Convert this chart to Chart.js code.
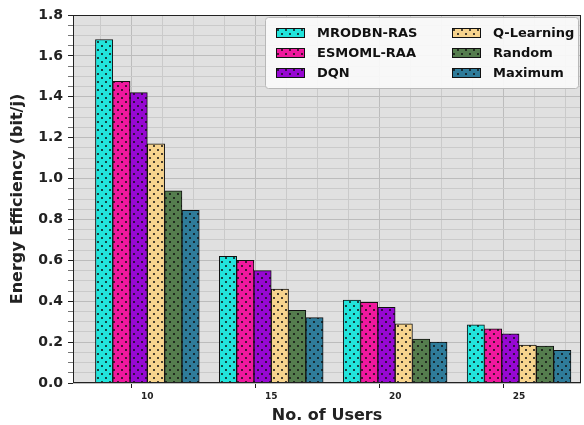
<!DOCTYPE html>
<html>
<head>
<meta charset="utf-8">
<script src="https://cdn.jsdelivr.net/npm/chart.js@4.4.1/dist/chart.umd.min.js"></script>
<style>
  html, body { margin: 0; padding: 0; background: #fff; }
  #wrap { width: 584px; height: 425px; }
</style>
</head>
<body>
<div id="wrap"><canvas id="c" width="584" height="425"></canvas></div>
<script>
// Energy efficiency per number of users for each allocation scheme
const users = [10, 15, 20, 25];
const yTickLabels = ['0.0', '0.2', '0.4', '0.6', '0.8', '1.0', '1.2', '1.4', '1.6', '1.8'];
const seriesNames = ['MRODBN-RAS', 'ESMOML-RAA', 'DQN', 'Q-Learning', 'Random', 'Maximum'];
const mrodbnRas = [1.68, 0.62, 0.405, 0.285];
const esmomlRaa = [1.475, 0.60, 0.395, 0.265];
const dqn       = [1.42, 0.55, 0.37, 0.24];
const qLearning = [1.17, 0.46, 0.29, 0.185];
const randomRa  = [0.94, 0.355, 0.215, 0.18];
const maximum   = [0.845, 0.32, 0.20, 0.16];

const seriesValues = [mrodbnRas, esmomlRaa, dqn, qLearning, randomRa, maximum];
const seriesColors = ['#22e4dc', '#f0189e', '#9708d2', '#f7d48e', '#557d4e', '#2f7c9a'];

const FONT = "'DejaVu Sans', sans-serif";

// dotted hatch fill, like a '.' hatch
function dotted(color) {
  const t = document.createElement('canvas');
  t.width = 8; t.height = 8;
  const g = t.getContext('2d');
  g.fillStyle = color;
  g.fillRect(0, 0, 8, 8);
  g.fillStyle = '#111';
  [[2, 2], [6, 6]].forEach(([x, y]) => {
    g.beginPath(); g.arc(x, y, 1, 0, Math.PI * 2); g.fill();
  });
  return g.createPattern(t, 'repeat');
}

const fills = seriesColors.map(dotted);

const datasets = seriesNames.map((name, k) => ({
  label: name,
  data: users.map((u, i) => ({ x: u, y: seriesValues[k][i] })),
  backgroundColor: fills[k],
  borderColor: '#111',
  borderWidth: 1,
  barThickness: 17.3
}));

const panel = {
  id: 'panel',
  beforeDraw(chart) {
    const { ctx, chartArea: a } = chart;
    ctx.save();
    ctx.fillStyle = '#e0e0e0';
    ctx.fillRect(a.left, a.top, a.right - a.left, a.bottom - a.top);
    ctx.restore();
  },
  afterDraw(chart) {
    const { ctx, chartArea: a } = chart;
    ctx.save();
    ctx.strokeStyle = '#222';
    ctx.lineWidth = 1;
    ctx.strokeRect(a.left + 0.5, a.top + 0.5, a.right - a.left - 1, a.bottom - a.top - 1);

    // legend box, two columns of three
    const bx = 265, by = 17, bw = 313, bh = 71;
    ctx.fillStyle = 'rgba(250,250,250,0.92)';
    ctx.strokeStyle = '#b8b8b8';
    ctx.beginPath();
    ctx.roundRect(bx + 0.5, by + 0.5, bw, bh, 3);
    ctx.fill(); ctx.stroke();
    ctx.font = `bold 13px ${FONT}`;
    ctx.textBaseline = 'middle';
    const cols = [276, 452];
    const rows = [33, 53, 73];
    chart.data.datasets.forEach((ds, k) => {
      const cx = cols[Math.floor(k / 3)];
      const cy = rows[k % 3];
      ctx.fillStyle = ds.backgroundColor;
      ctx.fillRect(cx, cy - 5, 29, 10);
      ctx.strokeStyle = '#111';
      ctx.strokeRect(cx + 0.5, cy - 4.5, 28, 9);
      ctx.fillStyle = '#111';
      ctx.fillText(ds.label, cx + 41, cy + 1);
    });
    ctx.restore();
  }
};

new Chart(document.getElementById('c'), {
  type: 'bar',
  data: { datasets },
  plugins: [panel],
  options: {
    responsive: false,
    animation: false,
    devicePixelRatio: 1,
    layout: { padding: { top: 15, right: 3, left: 0, bottom: 0 } },
    plugins: { legend: { display: false }, tooltip: { enabled: false } },
    scales: {
      x: {
        type: 'linear',
        min: 7,
        max: 27.5,
        offset: false,
        afterBuildTicks(axis) {
          const t = [];
          for (let v = 7.5; v <= 27.5; v += 1.25) t.push({ value: v });
          axis.ticks = t;
        },
        ticks: {
          autoSkip: false,
          maxRotation: 0,
          padding: 3,
          color: '#222',
          font: { family: FONT, weight: 'bold', size: 9 },
          callback(v) { return users.includes(v) ? String(v) : ''; }
        },
        grid: {
          color: (c) => (c.tick && users.includes(c.tick.value)) ? '#bcbcbc' : '#cacaca',
          tickColor: (c) => (c.tick && users.includes(c.tick.value)) ? '#222' : 'rgba(0,0,0,0)',
          tickLength: 5
        },
        border: { display: false },
        title: {
          display: true,
          text: 'No. of Users',
          color: '#222',
          font: { family: FONT, weight: 'bold', size: 16 },
          padding: { top: 2, bottom: 0 }
        },
        afterFit(s) { s.height = 42; }
      },
      y: {
        min: 0,
        max: 1.8,
        afterBuildTicks(axis) {
          const t = [];
          for (let i = 0; i <= 36; i++) t.push({ value: i * 0.05 });
          axis.ticks = t;
        },
        ticks: {
          autoSkip: false,
          padding: 5,
          color: '#222',
          font: { family: FONT, weight: 'bold', size: 14 },
          callback(v, i) { return i % 4 === 0 ? yTickLabels[i / 4] : ''; }
        },
        grid: {
          color: (c) => c.index % 4 === 0 ? '#bcbcbc' : '#cacaca',
          tickColor: (c) => c.index % 4 === 0 ? '#222' : '#777',
          tickLength: 5
        },
        border: { display: false },
        title: {
          display: true,
          text: 'Energy Efficiency (bit/j)',
          color: '#222',
          font: { family: FONT, weight: 'bold', size: 16 },
          padding: { top: 8, bottom: 0 }
        },
        afterFit(s) { s.width = 73; }
      }
    }
  }
});
</script>
</body>
</html>
